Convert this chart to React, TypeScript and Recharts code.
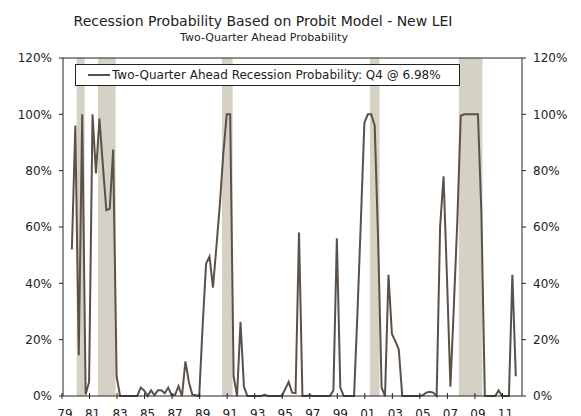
import React from 'react';
import {
  ComposedChart, Line, XAxis, YAxis, ReferenceArea, ReferenceLine
} from 'recharts';

// quarterly series, starting 1979 Q3
const startYear = 1979;
const startQuarter = 3;

const probabilities = [
  52, 96, 14.5, 100, 0.5, 5, 100, 79,
  98.5, 82, 66, 66.5, 87.5, 7, 0, 0,
  0, 0, 0, 0, 3, 2, 0, 2,
  0.3, 2, 2, 1, 3, 0.3, 0.5, 3.5,
  0, 12.3, 5, 0.5, 0.3, 0, 25, 47,
  49.5, 38.5, 53, 68, 86, 100, 100, 7,
  0, 26.3, 3.3, 0, 0, 0, 0, 0,
  0.4, 0, 0, 0, 0, 0, 2.5, 5,
  1.2, 1, 58, 0, 0, 0.3, 0, 0,
  0, 0, 0, 0, 2, 56, 3, 0,
  0, 0, 0, 30, 63, 97, 100, 100,
  96, 55, 3, 0, 43, 22, 19.5, 16.5,
  0, 0, 0, 0, 0, 0, 0.3, 1.2,
  1.5, 1.2, 0, 60, 78, 42, 3.3, 32,
  62, 99.5, 100, 100, 100, 100, 100, 65,
  0, 0, 0, 0, 2, 0, 0, 0,
  43, 6.98
];

// shaded recession periods (fractional years)
const recessionStart = [1979.85, 1981.4, 1990.4, 2001.15, 2007.61];
const recessionEnd = [1980.43, 1982.68, 1991.18, 2001.85, 2009.33];

const yTicks = [0, 20, 40, 60, 80, 100, 120];
const xTicks = [1979, 1981, 1983, 1985, 1987, 1989, 1991, 1993, 1995, 1997, 1999, 2001, 2003, 2005, 2007, 2009, 2011];

const legendLabel = 'Two-Quarter Ahead Recession Probability: Q4 @ 6.98%';

const chartData = probabilities.map((p, i) => ({
  t: startYear + (startQuarter - 1 + i) / 4,
  prob: p
}));

const FONT = 'Verdana, "DejaVu Sans", sans-serif';
const INK = '#222';
const LINE_COLOR = '#5c5148';

const YearTick = (props: any) => {
  const { x, y, payload } = props;
  return (
    <g>
      <line x1={x - 3} x2={x - 3} y1={y - 3} y2={y + 3} stroke={INK} />
      <text x={x} y={y + 22} textAnchor="middle" fontSize={12} fontFamily={FONT} fill={INK}>
        {String(payload.value).slice(2)}
      </text>
    </g>
  );
};

export default function App() {
  return (
    <div style={{ position: 'absolute', left: 0, top: 0, width: 581, height: 416, background: '#fff' }}>
      <div style={{
        position: 'absolute', left: 0, top: 13, width: 526, textAlign: 'center',
        fontFamily: FONT, fontSize: 14, color: INK
      }}>
        Recession Probability Based on Probit Model - New LEI
      </div>
      <div style={{
        position: 'absolute', left: 0, top: 31, width: 528, textAlign: 'center',
        fontFamily: FONT, fontSize: 11, color: INK
      }}>
        Two-Quarter Ahead Probability
      </div>
      <ComposedChart
        width={581}
        height={416}
        data={chartData}
        margin={{ top: 58, right: 0, bottom: 0, left: 0 }}
      >
        <XAxis
          dataKey="t"
          type="number"
          domain={[1978.855, 2012.2]}
          allowDataOverflow
          ticks={xTicks}
          interval={0}
          tick={<YearTick />}
          tickLine={false}
          tickSize={0}
          tickMargin={0}
          height={20}
          axisLine={{ stroke: INK }}
        />
        <YAxis
          yAxisId="left"
          domain={[0, 120]}
          ticks={yTicks}
          width={63}
          tickFormatter={(v) => `${v}%`}
          tick={{ fontSize: 12, fontFamily: FONT, fill: INK }}
          tickSize={4}
          tickMargin={7}
          tickLine={{ stroke: INK }}
          axisLine={{ stroke: INK }}
        />
        <YAxis
          yAxisId="right"
          orientation="right"
          domain={[0, 120]}
          ticks={yTicks}
          width={59}
          tickFormatter={(v) => `${v}%`}
          tick={{ fontSize: 12, fontFamily: FONT, fill: INK }}
          tickSize={4}
          tickMargin={7}
          tickLine={{ stroke: INK }}
          axisLine={{ stroke: INK }}
        />
        {recessionStart.map((s, i) => (
          <ReferenceArea
            key={i}
            yAxisId="left"
            x1={s}
            x2={recessionEnd[i]}
            y1={0}
            y2={120}
            fill="#d5d1c5"
            fillOpacity={1}
            stroke="none"
          />
        ))}
        <ReferenceLine yAxisId="left" y={120} stroke={INK} />
        <Line
          yAxisId="right"
          dataKey="prob"
          stroke="none"
          strokeOpacity={0}
          dot={false}
          activeDot={false}
          legendType="none"
          isAnimationActive={false}
        />
        <Line
          yAxisId="left"
          dataKey="prob"
          name={legendLabel}
          type="linear"
          stroke={LINE_COLOR}
          strokeWidth={2}
          dot={false}
          isAnimationActive={false}
        />
      </ComposedChart>
      <div style={{
        position: 'absolute', left: 75, top: 64, width: 385, height: 22, boxSizing: 'border-box',
        border: '1px solid #222', background: '#fff', display: 'flex', alignItems: 'center',
        paddingLeft: 12, fontFamily: FONT, fontSize: 12, color: INK
      }}>
        <span style={{ display: 'inline-block', width: 22, height: 2, background: LINE_COLOR, marginRight: 2 }} />
        <span>{legendLabel}</span>
      </div>
    </div>
  );
}
